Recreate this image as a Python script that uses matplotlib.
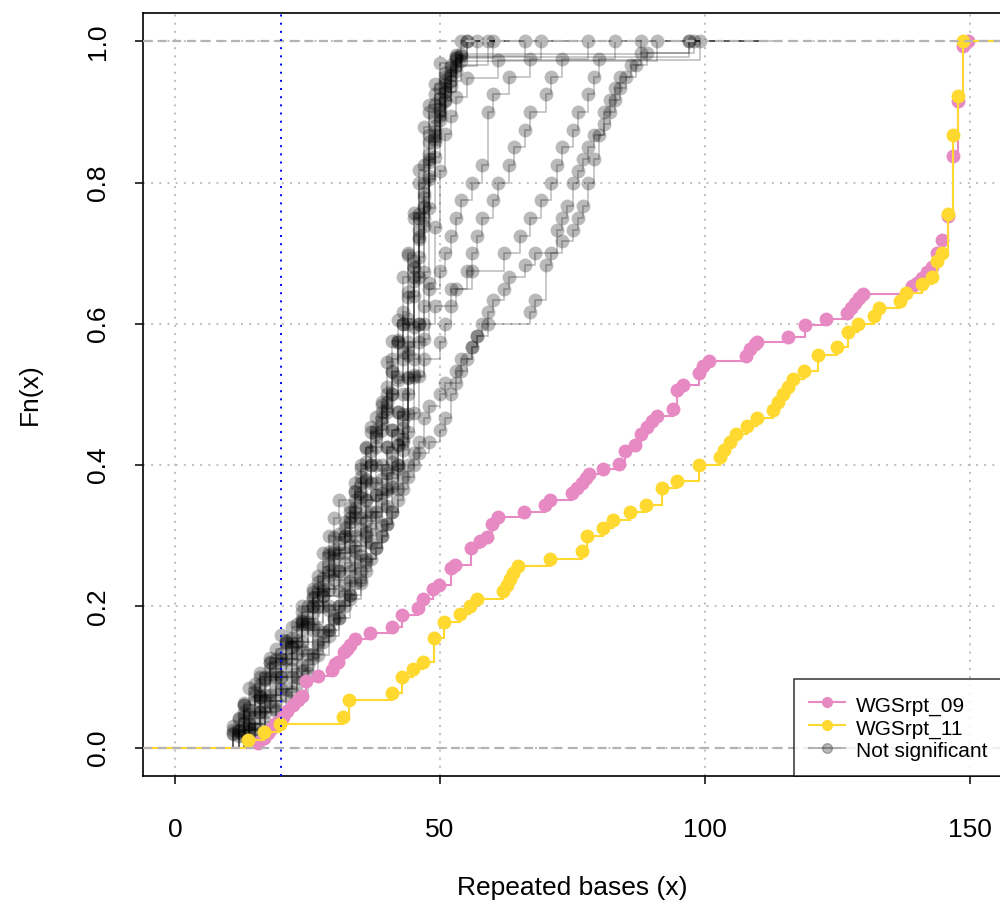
import numpy as np
import matplotlib
matplotlib.use("Agg")
import matplotlib.pyplot as plt
from matplotlib.lines import Line2D

plt.rcParams['font.family'] = ['Liberation Sans', 'DejaVu Sans']

# ECDF knots of the two significant samples (x, Fn(x))
rpt09_x = [15.7, 16.7, 17.6, 18.2, 18.9, 19.5, 20.4, 21.1, 22.3, 23.3, 23.9, 24.8,
           26.9, 29.6, 30.2, 30.8, 31.8, 32.4, 33.0, 34.0, 36.8, 40.9, 42.8, 45.9,
           46.8, 48.7, 49.8, 52.0, 52.8, 55.8, 57.5, 58.8, 59.8, 61.0, 65.8, 69.8,
           70.8, 74.9, 75.8, 76.8, 77.5, 78.2, 80.8, 83.8, 84.9, 86.8, 87.9, 89.0,
           90.0, 90.9, 93.9, 94.8, 95.8, 98.9, 99.6, 100.8, 107.7, 108.5, 109.4,
           109.8, 115.7, 118.9, 122.8, 126.8, 127.5, 128.3, 129.0, 129.8, 139.0,
           140.0, 141.0, 141.9, 142.8, 143.7, 144.7, 145.8, 146.8, 147.7, 148.7, 149.6]
rpt09_fn = [0.007, 0.014, 0.021, 0.026, 0.033, 0.037, 0.044, 0.052, 0.061, 0.068,
            0.073, 0.094, 0.102, 0.110, 0.118, 0.122, 0.136, 0.140, 0.146, 0.154,
            0.162, 0.171, 0.188, 0.198, 0.210, 0.224, 0.231, 0.254, 0.258, 0.283,
            0.293, 0.299, 0.317, 0.326, 0.333, 0.343, 0.351, 0.360, 0.368, 0.375,
            0.382, 0.388, 0.394, 0.402, 0.420, 0.428, 0.444, 0.454, 0.463, 0.470,
            0.480, 0.506, 0.513, 0.531, 0.540, 0.547, 0.555, 0.564, 0.571, 0.574,
            0.582, 0.599, 0.607, 0.616, 0.623, 0.630, 0.636, 0.642, 0.653, 0.658,
            0.665, 0.674, 0.681, 0.700, 0.718, 0.752, 0.838, 0.915, 0.993, 1.000]

rpt11_x = [13.8, 16.8, 19.8, 31.7, 32.8, 40.9, 42.8, 44.9, 46.8, 48.9, 50.8, 53.8,
           55.7, 57.0, 61.9, 62.6, 63.2, 63.8, 64.7, 70.8, 76.8, 77.7, 80.8, 82.6,
           85.8, 88.9, 91.9, 94.7, 98.9, 102.8, 103.6, 104.7, 105.8, 107.9, 109.8,
           112.8, 113.8, 114.7, 115.7, 116.6, 118.7, 121.3, 124.9, 127.0, 128.9,
           131.9, 132.8, 136.8, 137.9, 140.9, 142.8, 143.7, 144.7, 145.8, 146.8,
           147.7, 148.7]
rpt11_fn = [0.011, 0.022, 0.033, 0.044, 0.067, 0.078, 0.100, 0.111, 0.122, 0.156,
            0.178, 0.189, 0.200, 0.211, 0.222, 0.231, 0.239, 0.248, 0.257, 0.267,
            0.278, 0.300, 0.311, 0.322, 0.333, 0.344, 0.367, 0.378, 0.400, 0.411,
            0.422, 0.433, 0.444, 0.456, 0.467, 0.478, 0.489, 0.500, 0.511, 0.522,
            0.533, 0.556, 0.567, 0.589, 0.600, 0.611, 0.622, 0.633, 0.644, 0.656,
            0.667, 0.689, 0.700, 0.756, 0.867, 0.922, 1.000]

# repeated bases per read, samples without a significant shift
ns_01 = [11, 13, 15, 17, 19, 21, 23, 24, 26, 28, 28, 29, 30, 31, 34, 35, 36, 38, 39, 40,
         41, 41, 42, 43, 44, 44, 44, 44, 45, 45, 46, 46, 47, 48, 48, 48, 49, 51, 53, 55]
ns_02 = [11, 13, 15, 18, 21, 24, 26, 27, 29, 31, 33, 34, 35, 36, 37, 39, 40, 40, 41, 42,
         43, 43, 44, 45, 45, 46, 46, 47, 47, 48, 49, 50, 54]
ns_03 = [12, 13, 15, 16, 18, 20, 22, 24, 26, 28, 29, 30, 31, 32, 34, 35, 36, 37, 38, 38,
         39, 40, 41, 41, 42, 42, 43, 44, 44, 45, 45, 46, 46, 46, 47, 47, 48, 48, 48, 49,
         49, 50, 51, 53, 97]
ns_04 = [13, 16, 19, 22, 25, 28, 31, 34, 36, 38, 40, 42, 43, 44, 44, 44, 44, 45, 45, 46,
         46, 47, 48, 48, 49, 51, 53, 57]
ns_05 = [11, 12, 13, 15, 16, 18, 19, 20, 24, 25, 26, 28, 29, 30, 32, 33, 34, 35, 36, 37,
         37, 38, 39, 40, 41, 42, 43, 43, 44, 44, 45, 45, 45, 46, 46, 46, 47, 47, 47, 48,
         48, 48, 49, 49, 50, 50, 51, 52, 53, 55]
ns_06 = [14, 17, 19, 22, 24, 27, 29, 31, 33, 34, 36, 37, 39, 40, 41, 42, 43, 44, 44, 44,
         45, 45, 45, 46, 46, 47, 47, 48, 48, 49, 49, 50, 51, 52, 54, 91]
ns_07 = [12, 14, 16, 17, 20, 22, 24, 26, 28, 30, 32, 33, 35, 36, 38, 39, 41, 42, 43, 44,
         44, 44, 45, 45, 45, 46, 46, 46, 47, 47, 47, 48, 48, 48, 49, 49, 50, 50, 51, 52,
         53, 60]
ns_08 = [14, 17, 20, 23, 26, 29, 32, 34, 36, 38, 40, 42, 43, 44, 44, 44, 44, 45, 45, 45,
         46, 46, 47, 48, 48, 49, 50, 51, 52, 59]
ns_09 = [15, 17, 19, 21, 23, 24, 26, 27, 28, 30, 31, 32, 33, 34, 35, 36, 37, 38, 39, 40,
         41, 42, 43, 43, 44, 44, 45, 45, 45, 46, 46, 46, 46, 47, 47, 47, 47, 48, 48, 48,
         48, 48, 49, 49, 49, 49, 50, 50, 50, 50, 51, 51, 52, 54, 88]
ns_10 = [15, 19, 22, 25, 27, 29, 31, 33, 35, 36, 37, 39, 40, 41, 42, 43, 44, 45, 46, 46,
         47, 47, 48, 48, 48, 49, 49, 49, 50, 50, 50, 51, 51, 52, 53, 55, 61, 99]
ns_11 = [11, 12, 13, 14, 16, 18, 21, 22, 24, 26, 27, 28, 29, 30, 32, 33, 34, 35, 36, 37,
         37, 38, 39, 40, 41, 42, 42, 43, 43, 44, 45, 45, 46, 46, 47, 47, 48, 48, 48, 49,
         49, 50, 51, 52, 53, 54, 66]
ns_12 = [12, 14, 16, 18, 20, 22, 24, 26, 27, 29, 30, 32, 33, 34, 35, 37, 38, 39, 40, 41,
         42, 43, 44, 46, 47, 48, 50, 51, 52, 53, 54, 56, 58, 59, 59, 59, 60, 63, 67, 69]
ns_13 = [13, 15, 17, 19, 21, 23, 25, 27, 28, 30, 31, 33, 34, 36, 37, 38, 40, 41, 42, 44,
         45, 47, 50, 51, 52, 53, 55, 56, 57, 58, 60, 61, 63, 64, 66, 67, 70, 71, 73, 78]
ns_14 = [14, 16, 18, 20, 22, 24, 26, 28, 29, 31, 32, 34, 35, 36, 38, 39, 40, 41, 42, 43,
         44, 45, 46, 47, 49, 52, 56, 62, 65, 67, 69, 71, 72, 73, 75, 76, 78, 79, 80, 83]
ns_15 = [13, 15, 17, 19, 21, 23, 25, 26, 28, 29, 31, 32, 33, 35, 36, 37, 38, 39, 40, 41,
         42, 42, 43, 44, 45, 46, 47, 47, 48, 50, 51, 53, 54, 56, 57, 59, 67, 68, 70, 70,
         70, 71, 72, 72, 73, 74, 75, 75, 76, 77, 78, 79, 81, 81, 82, 83, 84, 86, 88, 98]
ns_16 = [12, 14, 16, 18, 20, 22, 24, 25, 27, 29, 30, 31, 33, 34, 35, 36, 38, 39, 40, 41,
         42, 43, 44, 45, 46, 48, 50, 51, 52, 52, 53, 54, 55, 56, 57, 58, 59, 60, 62, 63,
         66, 68, 73, 75, 76, 77, 78, 78, 79, 79, 80, 80, 81, 82, 83, 84, 85, 87, 89, 97]

not_signif = [ns_01, ns_02, ns_03, ns_04, ns_05, ns_06, ns_07, ns_08,
              ns_09, ns_10, ns_11, ns_12, ns_13, ns_14, ns_15, ns_16]

col_09 = "#E78AC3"
col_11 = "#FFD92F"
grey_alpha = 0.27


def ecdf_knots(sample):
    vals, counts = np.unique(sample, return_counts=True)
    return vals, np.cumsum(counts) / len(sample)


def draw_ecdf(ax, x, fn, color, alpha=1.0, lw=1.2, z=2):
    x = np.asarray(x, dtype=float)
    fn = np.asarray(fn, dtype=float)
    # horizontal tails reach past the data like stepfun does
    dr = max(0.08 * (x.max() - x.min()), np.median(np.diff(x)))
    xs = np.concatenate([[x[0] - 2 * dr], x, [x[-1] + 2 * dr]])
    ys = np.concatenate([[0.0], fn, [fn[-1]]])
    ax.step(xs, ys, where='post', color=color, alpha=alpha, lw=lw, zorder=z,
            solid_joinstyle='miter')
    ax.plot(x, fn, 'o', color=color, alpha=alpha, ms=10, mew=0, zorder=z)


fig = plt.figure(figsize=(10, 9.05), dpi=100)
ax = fig.add_axes([0.1432, 129 / 905, 0.8586, 763 / 905])
ax.set_xlim(-6, 156)
ax.set_ylim(-0.04, 1.04)

# dotted reference grid
grid_style = dict(color='#BEBEBE', lw=1.4, ls=(0, (1, 3.2)), zorder=1)
for gx in [0, 50, 100, 150]:
    ax.axvline(gx, **grid_style)
for gy in [0, 0.2, 0.4, 0.6, 0.8, 1.0]:
    ax.axhline(gy, **grid_style)

for s in not_signif:
    kx, kf = ecdf_knots(s)
    draw_ecdf(ax, kx, kf, 'black', alpha=grey_alpha, lw=1.1, z=2)

draw_ecdf(ax, rpt09_x, rpt09_fn, col_09, lw=1.5, z=3)
draw_ecdf(ax, rpt11_x, rpt11_fn, col_11, lw=1.5, z=4)

for h in [0, 1]:
    ax.axhline(h, color='#B3B3B3', lw=1.6, ls=(0, (4, 2.6)), zorder=5)

ax.axvline(20, color='blue', lw=1.4, ls=(0, (1, 3.2)), zorder=5)

ax.set_xticks([0, 50, 100, 150])
ax.set_xticklabels(['0', '50', '100', '150'])
ax.set_yticks([0, 0.2, 0.4, 0.6, 0.8, 1.0])
ax.set_yticklabels(['0.0', '0.2', '0.4', '0.6', '0.8', '1.0'], rotation=90, va='center')
ax.tick_params(axis='both', direction='out', length=6, width=1.1, labelsize=19)
ax.tick_params(axis='x', pad=24)
ax.tick_params(axis='y', pad=18)
for sp in ax.spines.values():
    sp.set_linewidth(1.2)

ax.set_xlabel('Repeated bases (x)', fontsize=19)
ax.xaxis.set_label_coords(0.5, -0.1468)
ax.xaxis.label.set_va('center')
ax.set_ylabel('Fn(x)', fontsize=19)
ax.yaxis.set_label_coords(-0.1318, 0.5)
ax.yaxis.label.set_va('center')

handles = [
    Line2D([], [], color=col_09, marker='o', ms=7, lw=1.5),
    Line2D([], [], color=col_11, marker='o', ms=7, lw=1.5),
    Line2D([], [], color='black', alpha=grey_alpha, marker='o', ms=7, lw=1.5),
]
leg = ax.legend(handles, ['WGSrpt_09', 'WGSrpt_11', 'Not significant'],
                loc='lower right', fontsize=15, frameon=True, fancybox=False,
                borderaxespad=0, handlelength=1.75, handletextpad=0.5,
                handleheight=1.3, labelspacing=0.0, borderpad=0.7)
leg.get_frame().set_edgecolor('black')
leg.get_frame().set_linewidth(1.1)
leg.set_zorder(10)

fig.savefig('out.png', dpi=100)
